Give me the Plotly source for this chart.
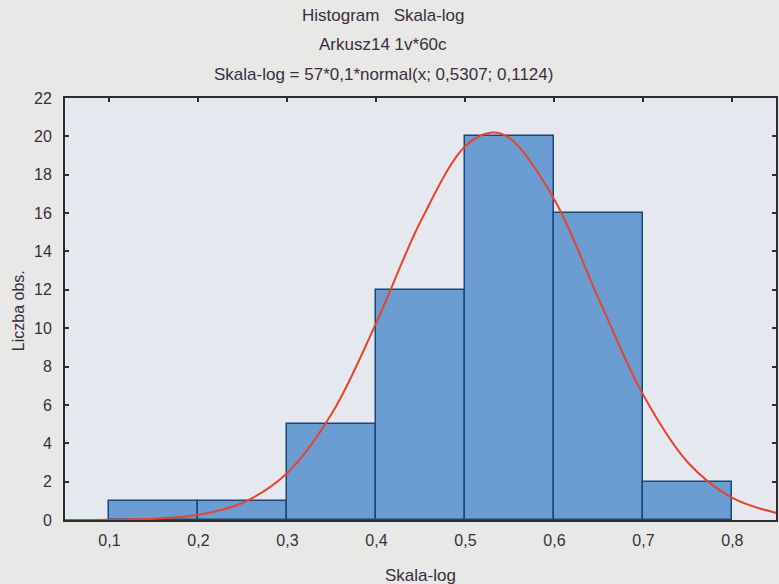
import plotly.graph_objects as go

# Histogram data
bin_left = [0.1, 0.2, 0.3, 0.4, 0.5, 0.6, 0.7]
bin_width = 0.1
counts = [1, 1, 5, 12, 20, 16, 2]

# Fitted normal curve
curve_x = [0.05, 0.10, 0.15, 0.20, 0.25, 0.30, 0.35, 0.40, 0.45, 0.50, 0.53,
           0.55, 0.60, 0.65, 0.70, 0.75, 0.80, 0.85]
curve_y = [0.0, 0.01, 0.07, 0.27, 0.9, 2.46, 5.56, 10.3, 15.6, 19.5, 20.2,
           19.9, 16.7, 11.5, 6.5, 3.0, 1.15, 0.36]

x_ticks = [0.1, 0.2, 0.3, 0.4, 0.5, 0.6, 0.7, 0.8]
y_ticks = list(range(0, 23, 2))

title_lines = ["Histogram\u00a0\u00a0\u00a0Skala-log",
               "Arkusz14 1v*60c",
               "Skala-log = 57*0,1*normal(x; 0,5307; 0,1124)"]
x_title = "Skala-log"
y_title = "Liczba obs."

FONT = "Liberation Sans, Arial, sans-serif"
TXT = "#3a2e3e"
AX = "#2c2c2c"

centers = [b + bin_width / 2 for b in bin_left]

fig = go.Figure()
fig.add_trace(go.Bar(
    x=centers, y=counts, width=[bin_width] * len(counts),
    marker=dict(color="#6b9cd2", line=dict(color="#1d4678", width=1.5)),
    showlegend=False, hoverinfo="skip"))
fig.add_trace(go.Scatter(
    x=curve_x, y=curve_y, mode="lines",
    line=dict(color="#e8432b", width=2, shape="spline", smoothing=1.0),
    showlegend=False, hoverinfo="skip"))
# invisible trace anchoring the top tick axis
fig.add_trace(go.Scatter(x=[0.05], y=[0], xaxis="x2", yaxis="y",
                         mode="markers", marker=dict(opacity=0),
                         showlegend=False, hoverinfo="skip"))

xr = [0.05, 0.849]
fig.update_layout(
    width=779, height=584,
    margin=dict(l=65, r=1, t=98, b=64),
    paper_bgcolor="#e8e8e7",
    plot_bgcolor="#e5e8ee",
    separators=", ",
    bargap=0,
    font=dict(family=FONT, size=16, color=TXT),
    xaxis=dict(range=xr, tickvals=x_ticks, tickformat=".1f",
               showgrid=False, zeroline=False,
               showline=True, linecolor=AX, linewidth=2, mirror=True,
               ticks="", ticklabelstandoff=5,
               tickfont=dict(size=16, color=TXT)),
    xaxis2=dict(range=xr, overlaying="x", side="top", tickvals=x_ticks,
                showticklabels=False, showgrid=False, zeroline=False,
                showline=False, ticks="inside", ticklen=4, tickwidth=1.5,
                tickcolor=AX),
    yaxis=dict(range=[0, 22], tickvals=y_ticks,
               showgrid=False, zeroline=False,
               showline=True, linecolor=AX, linewidth=2, mirror="ticks",
               ticks="inside", ticklen=4, tickwidth=1.5, tickcolor=AX,
               ticklabelstandoff=8,
               tickfont=dict(size=16, color=TXT)),
)

title_y_px = [15, 45, 75]
for txt, ypx in zip(title_lines, title_y_px):
    fig.add_annotation(text=txt, xref="paper", yref="paper",
                       x=(384 - 65) / 713, y=1 + (98 - ypx) / 422,
                       showarrow=False, xanchor="center", yanchor="middle",
                       font=dict(size=17, color=TXT, family=FONT))

fig.add_annotation(text=x_title, xref="paper", yref="paper",
                   x=0.5, y=-(575 - 520) / 422, showarrow=False,
                   xanchor="center", yanchor="middle",
                   font=dict(size=17, color=TXT, family=FONT))
fig.add_annotation(text=y_title, xref="paper", yref="paper",
                   x=-(65 - 18) / 713, y=(520 - 311) / 422, textangle=-90,
                   showarrow=False, xanchor="center", yanchor="middle",
                   font=dict(size=16, color=TXT, family=FONT))

fig.write_html("out.html")
